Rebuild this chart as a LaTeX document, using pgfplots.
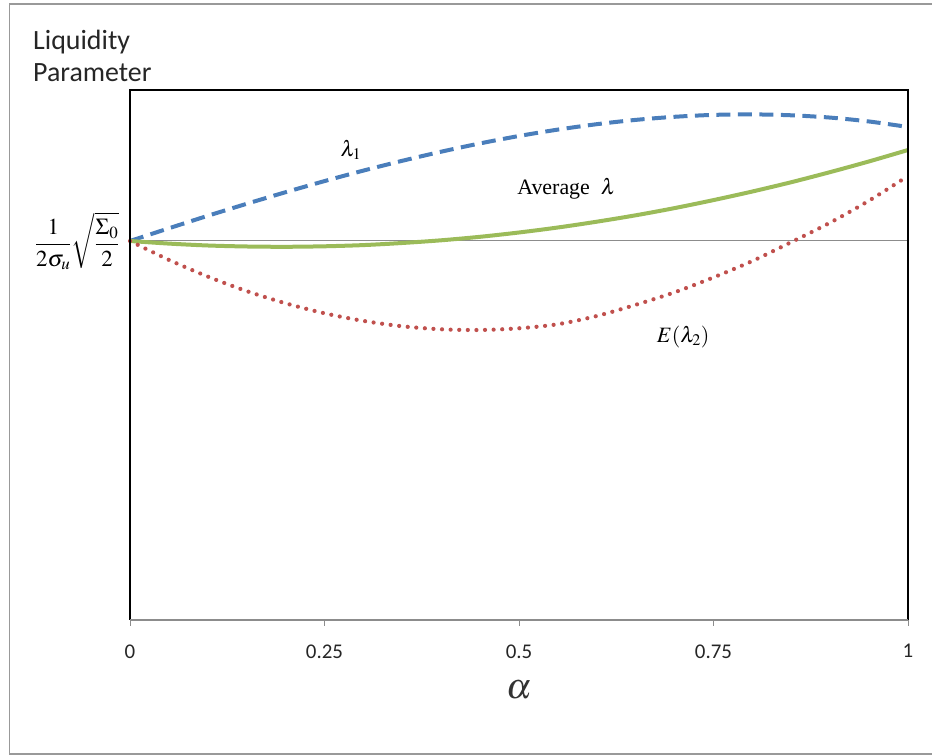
\documentclass[border=0pt]{standalone}
\usepackage{pgfplots}
\pgfplotsset{compat=1.18}
\usepackage{mathptmx}
\usepackage{fontspec}
\newfontfamily\calfont{Carlito}
\newfontfamily\tnrfont{Liberation Serif}
\definecolor{cblue}{HTML}{4A7EBB}
\definecolor{cred}{HTML}{C0504D}
\definecolor{cgreen}{HTML}{9BBB59}
\pgfplotstableread{
a    l1    avg   l2
0.00 379.0 379.0 379.0
0.05 391.7 376.4 360.1
0.10 404.2 374.5 343.4
0.15 416.2 373.5 328.9
0.20 427.8 373.2 316.7
0.25 438.9 373.7 306.7
0.30 449.4 374.9 299.1
0.35 459.2 377.0 293.7
0.40 468.3 379.7 290.7
0.45 476.6 383.2 290.0
0.50 484.0 387.5 291.7
0.55 490.4 392.5 295.8
0.60 495.8 398.3 304.0
0.65 500.1 404.7 315.2
0.70 503.2 411.9 327.7
0.75 505.1 419.9 342.6
0.80 505.6 428.5 359.0
0.85 504.7 437.8 377.9
0.90 502.4 447.9 397.4
0.95 498.5 458.6 419.4
1.00 493.0 470.0 444.0
}\datatab
\begin{document}
\begin{tikzpicture}[x=1bp,y=1bp]
\useasboundingbox (0,0) rectangle (932,755);
\draw[black!40, line width=1.3bp] (933,751) -- (9.5,751) -- (9.5,1) -- (933,1);
\node[anchor=base west, inner sep=0pt, font=\calfont\fontsize{28}{30}\selectfont, text=black!85] at (33,705) {Liquidity};
\node[anchor=base west, inner sep=0pt, font=\calfont\fontsize{28}{30}\selectfont, text=black!85] at (33,673) {Parameter};
\begin{axis}[
  at={(130bp,135bp)}, anchor=south west,
  scale only axis, width=778bp, height=530bp,
  xmin=0, xmax=1, ymin=0, ymax=530,
  axis line style={draw=none},
  xtick={0,0.25,0.5,0.75,1},
  xticklabels={0,0.25,0.5,0.75,1},
  tick align=outside, xtick pos=bottom,
  major tick length=6bp,
  xtick style={black!45, line width=0.9bp},
  xticklabel style={font=\calfont\fontsize{21}{23}\selectfont, text=black!85, yshift=-15bp},
  ytick={379},
  yticklabels={$\displaystyle\frac{1}{2\sigma_u}\sqrt{\frac{\Sigma_0}{2}}$},
  ytick style={draw=none},
  yticklabel style={font=\fontsize{23}{26}\selectfont, xshift=-1bp},
  xlabel={$\alpha$},
  xlabel style={at={(axis description cs:0.5,0)}, anchor=center, yshift=-70bp, font=\fontsize{36}{40}\selectfont, text=black!80},
  clip=false,
]
\addplot[black!45, line width=1bp] coordinates {(0,379) (1,379)};
\addplot[cblue, line width=4bp, dash pattern=on 14bp off 7.5bp, smooth] table[x=a, y=l1] {\datatab};
\addplot[cgreen, line width=4bp, smooth] table[x=a, y=avg] {\datatab};
\addplot[cred, line width=4.2bp, line cap=round, dash pattern=on 0bp off 8.6bp, smooth] table[x=a, y=l2] {\datatab};
\draw[black, line width=1.1bp] (rel axis cs:0,0) -- (rel axis cs:0,1) -- (rel axis cs:1,1) -- (rel axis cs:1,0);
\draw[black!45, line width=1.1bp] (rel axis cs:0,0) -- (rel axis cs:1,0);
\node[font=\fontsize{22}{24}\selectfont] at (axis cs:0.284,470) {$\lambda_1$};
\node[font=\fontsize{22}{24}\selectfont] at (axis cs:0.561,431) {\tnrfont Average\ \ $\lambda$};
\node[font=\fontsize{22}{24}\selectfont] at (axis cs:0.711,283) {$E(\lambda_2)$};
\end{axis}
\end{tikzpicture}
\end{document}
